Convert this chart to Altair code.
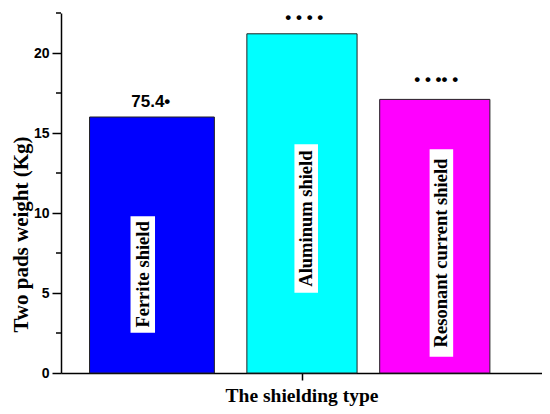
import altair as alt
import pandas as pd

# Data
categories = ["Ferrite shield", "Aluminum shield", "Resonant current shield"]
weights = [16.0, 21.2, 17.1]
colors = ["#0000FF", "#00FFFF", "#FF00FF"]
bar_start = [0.50, 3.84, 6.66]
bar_end = [3.15, 6.18, 9.00]
top_labels = ["75.4•", "• • • •", "• • •• •"]
top_label_x = [1.80, 5.06, 7.86]
top_label_dy = [-15, -16, -19]

# in-bar label anchors (data units)
name_x = [1.63, 5.10, 7.97]
name_y = [6.16, 9.65, 7.50]
box_x0 = [1.37, 4.85, 7.72]
box_x1 = [1.89, 5.35, 8.22]
box_y0 = [2.51, 5.01, 1.02]
box_y1 = [9.80, 14.29, 13.98]

major_ticks = [0, 5, 10, 15, 20]
minor_ticks = [2.5, 7.5, 12.5, 17.5, 22.5]

df = pd.DataFrame({
    "cat": categories, "w": weights, "x0": bar_start, "x1": bar_end,
    "lab": top_labels, "lx": top_label_x, "dy": top_label_dy,
    "nx": name_x, "ny": name_y, "bx0": box_x0, "bx1": box_x1,
    "by0": box_y0, "by1": box_y1,
})
minor_df = pd.DataFrame({"v": minor_ticks})

xscale = alt.Scale(domain=[0, 10], nice=False, zero=False)
yscale = alt.Scale(domain=[0, 22.5], nice=False)

serif = "Liberation Serif"
sans = "Liberation Sans"

bars = alt.Chart(df).mark_bar(stroke="#222222", strokeWidth=1, orient="vertical").encode(
    x=alt.X("x0:Q", scale=xscale, axis=alt.Axis(
        values=[5], labels=False, grid=False, tickSize=7, tickColor="black",
        domainColor="black", domainWidth=1.5, tickWidth=1.5,
        title="The shielding type", titleFont=serif, titleFontSize=19.5,
        titleFontWeight="bold", titleColor="black", titleBaseline="top",
        titleY=13)),
    x2="x1:Q",
    y=alt.Y("w:Q", scale=yscale, axis=alt.Axis(
        values=major_ticks, grid=False, tickSize=9, tickColor="black",
        tickWidth=1.5, domainColor="black", domainWidth=1.5,
        labelFont=sans, labelFontSize=14, labelFontWeight="bold",
        labelColor="black", labelPadding=3,
        title="Two pads weight (Kg)", titleFont=serif, titleFontSize=21,
        titleFontWeight="bold", titleColor="black", titleAngle=270,
        titleBaseline="middle", titleAlign="center", titleX=-40, titleY=221)),
    y2=alt.datum(0),
    color=alt.Color("cat:N", scale=alt.Scale(domain=categories, range=colors), legend=None),
)

minor = alt.Chart(minor_df).mark_rule(color="black", strokeWidth=1.5).encode(
    y=alt.Y("v:Q", scale=yscale),
    x=alt.value(-5),
    x2=alt.value(0),
)

boxes = alt.Chart(df).mark_rect(color="white").encode(
    x=alt.X("bx0:Q", scale=xscale), x2="bx1:Q",
    y=alt.Y("by0:Q", scale=yscale), y2="by1:Q",
)

names = alt.Chart(df).mark_text(
    angle=270, font=serif, fontSize=18.5, fontWeight="bold", color="black",
    align="center", baseline="middle",
).encode(
    x=alt.X("nx:Q", scale=xscale),
    y=alt.Y("ny:Q", scale=yscale),
    text="cat:N",
)

tops = []
for i in range(len(categories)):
    tops.append(alt.Chart(df.iloc[[i]]).mark_text(
        font=sans, fontSize=17, fontWeight="bold", color="black",
        align="center", baseline="middle", dy=top_label_dy[i],
    ).encode(
        x=alt.X("lx:Q", scale=xscale),
        y=alt.Y("w:Q", scale=yscale),
        text="lab:N",
    ))

chart = alt.layer(bars, minor, boxes, names, *tops).properties(
    width=481, height=360,
    autosize=alt.AutoSizeParams(type="none"),
    padding={"left": 53, "top": 5, "right": 0, "bottom": 33},
).configure_view(stroke=None)

chart.save("out.html", embed_options={"renderer": "svg", "actions": False})
